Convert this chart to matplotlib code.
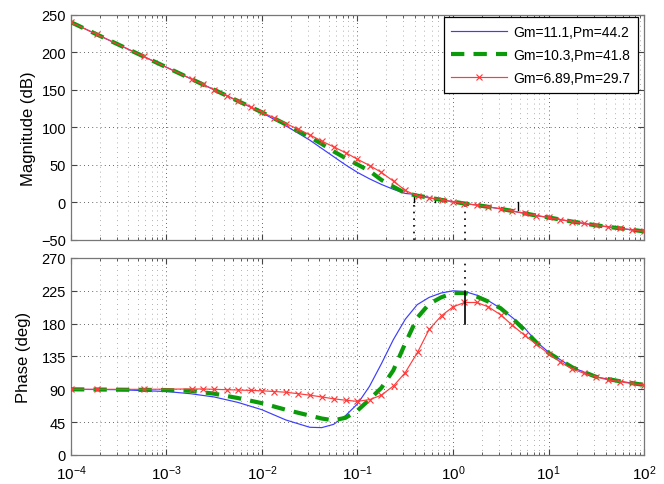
import numpy as np
import matplotlib
matplotlib.use("Agg")
import matplotlib.pyplot as plt
from matplotlib.ticker import LogLocator, NullFormatter, FixedLocator

plt.rcParams['font.family'] = ['Liberation Sans', 'DejaVu Sans']
plt.rcParams['mathtext.fontset'] = 'custom'
plt.rcParams['mathtext.rm'] = 'Liberation Sans'
plt.rcParams['mathtext.it'] = 'Liberation Sans'

labels = ["Gm=11.1,Pm=44.2", "Gm=10.3,Pm=41.8", "Gm=6.89,Pm=29.7"]

# log10 of frequency (rad/s) for blue / green curves
bg_logw = [-4, -3.5, -3, -2.75, -2.5, -2.25, -2, -1.75, -1.5, -1.375, -1.25, -1.125,
           -1, -0.875, -0.75, -0.625, -0.5, -0.375, -0.25, -0.125, 0, 0.125, 0.25,
           0.375, 0.5, 0.625, 0.75, 0.875, 1, 1.25, 1.5, 1.75, 2]

blue_mag = [240, 210, 180, 165, 150, 135, 119.5, 102, 83, 72, 61, 50,
            40, 31.5, 24, 17.5, 12, 10.5, 6.5, 3.5, 1, -1.5, -3.5,
            -6, -8.5, -11.5, -14.5, -17.5, -20, -25.5, -30.5, -34.5, -38.5]
green_mag = [240, 210, 180, 165, 150, 135, 120, 104, 87, 78, 68, 59,
             50.5, 42, 30, 21, 12.5, 9, 6.5, 3.5, 1, -1.5, -3.5,
             -6, -8.5, -11.5, -14.5, -17.5, -20, -25.5, -30.5, -34.5, -38.5]

blue_phase = [90, 89.5, 87, 84, 79.5, 72, 62, 48, 38, 37.5, 42, 54,
              70, 94, 125, 158, 186, 206, 216, 222, 225, 224, 219,
              211, 201, 188, 174, 155, 141, 120, 107, 101, 96]
green_phase = [90, 89.5, 89, 88, 84, 78, 71, 62, 54, 50, 47.5, 51,
               61, 76, 92, 116, 153, 188, 207, 216, 222, 222, 217,
               210, 201, 187, 171, 154, 140, 120, 107, 101, 96]

# red curve (its samples carry the markers)
red_logw = [-4, -3.73, -3.24, -2.73, -2.62, -2.5, -2.37, -2.25, -2.12, -2.0, -1.87,
            -1.75, -1.62, -1.5, -1.37, -1.25, -1.12, -1.0, -0.87, -0.75, -0.62,
            -0.5, -0.37, -0.25, -0.12, 0, 0.12, 0.25, 0.37, 0.5, 0.62, 0.75,
            0.87, 1.0, 1.12, 1.25, 1.37, 1.5, 1.62, 1.75, 1.87, 2.0]
red_mag = [240, 223.8, 194.4, 163.8, 157.2, 150, 142.2, 135, 127.2, 120, 112.5,
           105, 97.5, 90, 81.5, 74, 66, 57.5, 49, 40, 28,
           16, 8.5, 6, 3.5, 1, -1.5, -3.5, -6, -8.5, -11.5, -14.5,
           -17.5, -20, -23, -25.5, -28, -30.5, -32.5, -34.5, -36.5, -38.5]
red_phase = [90, 90, 90, 90.5, 90.5, 90, 89.5, 89, 88.5, 88, 87,
             86, 84, 82, 79.5, 77, 75, 73.5, 76, 82, 95,
             113, 141, 172, 191, 203, 209, 209, 203, 192, 178, 164,
             152, 139, 128, 118, 112, 107, 103, 100.5, 98, 96]

# margin indicator lines (frequency, y-from, y-to)
mag_solid_w = [0.39, 0.65, 4.8]
mag_solid_lo = [0, 0, -10]
mag_solid_hi = [10, 5, 0]
mag_dot_w = [0.39, 1.34]
mag_dot_lo = [-50, -50]
mag_dot_hi = [0, -2]
ph_solid_w = [1.34]
ph_solid_lo = [180]
ph_solid_hi = [223]
ph_dot_w = [1.34]
ph_dot_lo = [223]
ph_dot_hi = [270]

mag_ticks = [-50, 0, 50, 100, 150, 200, 250]
phase_ticks = [0, 45, 90, 135, 180, 225, 270]
x_ticks = [1e-4, 1e-3, 1e-2, 1e-1, 1e0, 1e1, 1e2]
x_ticklabels = [r'$10^{-4}$', r'$10^{-3}$', r'$10^{-2}$', r'$10^{-1}$',
                r'$10^{0}$', r'$10^{1}$', r'$10^{2}$']

c_blue = '#3c3cff'
c_green = '#0a9a0a'
c_red = '#ff3c3c'

fig = plt.figure(figsize=(6.64, 4.85), dpi=100)
ax1 = fig.add_axes([0.1069, 0.5031, 0.8630, 0.4645])
ax2 = fig.add_axes([0.1069, 0.0598, 0.8630, 0.4062])

bw = 10 ** np.array(bg_logw)
rw = 10 ** np.array(red_logw)

for ax, yb, yg, yr in [(ax1, blue_mag, green_mag, red_mag),
                       (ax2, blue_phase, green_phase, red_phase)]:
    ax.plot(bw, yb, color=c_blue, lw=0.85, label=labels[0], zorder=3)
    ax.plot(bw, yg, color=c_green, lw=3.0, dashes=(3.2, 2.2), label=labels[1], zorder=4)
    ax.plot(rw, yr, color=c_red, lw=0.85, marker='x', ms=4.0, mew=0.85,
            label=labels[2], zorder=5)

for w, lo, hi in zip(mag_solid_w, mag_solid_lo, mag_solid_hi):
    ax1.plot([w, w], [lo, hi], color='black', lw=1.0, zorder=2)
for w, lo, hi in zip(mag_dot_w, mag_dot_lo, mag_dot_hi):
    ax1.plot([w, w], [lo, hi], color='black', lw=1.2, ls=(0, (1, 3)), zorder=2)
for w, lo, hi in zip(ph_solid_w, ph_solid_lo, ph_solid_hi):
    ax2.plot([w, w], [lo, hi], color='black', lw=1.2, zorder=6)
for w, lo, hi in zip(ph_dot_w, ph_dot_lo, ph_dot_hi):
    ax2.plot([w, w], [lo, hi], color='black', lw=1.2, ls=(0, (1, 3)), zorder=2)

for ax in (ax1, ax2):
    ax.set_xscale('log')
    ax.set_xlim(1e-4, 1e2)
    ax.xaxis.set_major_locator(FixedLocator(x_ticks))
    ax.xaxis.set_minor_locator(LogLocator(base=10, subs=np.arange(2, 10), numticks=20))
    ax.xaxis.set_minor_formatter(NullFormatter())
    ax.grid(which='major', color='#333333', lw=0.6, ls=(0, (1, 4)))
    ax.grid(which='minor', axis='x', color='#666666', lw=0.5, ls=(0, (1, 6)))
    ax.set_axisbelow(True)
    ax.tick_params(which='both', direction='in', top=True, right=True,
                   colors='#444444', labelcolor='black', labelsize=10.5)
    ax.tick_params(which='major', length=4)
    ax.tick_params(which='minor', length=2)
    for s in ax.spines.values():
        s.set_color('#777777')
        s.set_linewidth(0.9)

ax1.set_ylim(-50, 250)
ax1.set_yticks(mag_ticks)
ax1.set_xticklabels([])
ax1.set_ylabel('Magnitude (dB)', fontsize=12)

ax2.set_ylim(0, 270)
ax2.set_yticks(phase_ticks)
ax2.set_xticklabels(x_ticklabels)
ax2.tick_params(axis='x', which='major', pad=6, labelsize=11)
ax2.set_ylabel('Phase (deg)', fontsize=12, labelpad=8)
fig.align_ylabels([ax1, ax2])

leg = ax1.legend(loc='upper right', bbox_to_anchor=(0.990, 0.988), borderaxespad=0,
                 fancybox=False, edgecolor='black', framealpha=1, fontsize=10,
                 handlelength=4.0, handletextpad=0.5, labelspacing=0.65, borderpad=0.55)
leg.get_frame().set_linewidth(0.9)

fig.savefig('out.png', dpi=100, facecolor='white')
